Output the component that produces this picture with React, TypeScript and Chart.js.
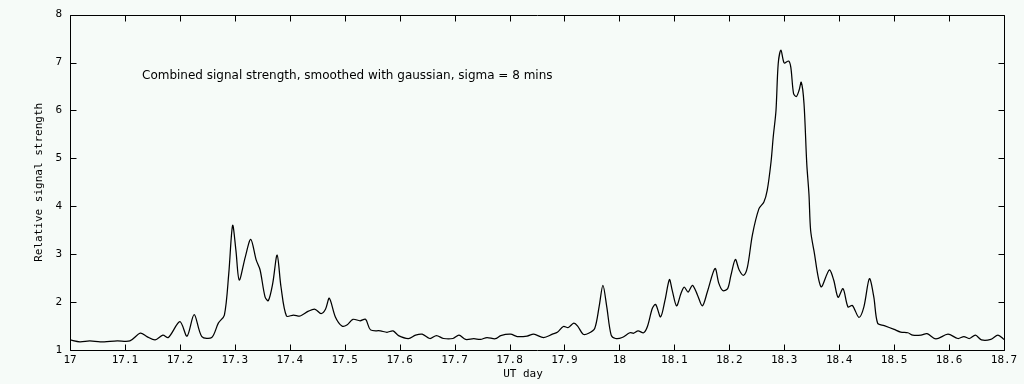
import { useEffect, useRef } from 'react';
import { Chart, registerables } from 'chart.js';

Chart.register(...registerables);

// UT day of each sample
const days: number[] = [
  17.000, 17.018, 17.036, 17.055, 17.086, 17.109, 17.128, 17.140, 17.155, 17.169,
  17.179, 17.200, 17.213, 17.226, 17.240, 17.258, 17.270, 17.281, 17.289, 17.296,
  17.302, 17.308, 17.319, 17.329, 17.339, 17.346, 17.355, 17.361, 17.369, 17.377,
  17.384, 17.394, 17.407, 17.419, 17.434, 17.446, 17.457, 17.465, 17.472, 17.483,
  17.495, 17.504, 17.515, 17.528, 17.538, 17.547, 17.565, 17.577, 17.588, 17.598,
  17.616, 17.629, 17.641, 17.655, 17.667, 17.680, 17.697, 17.708, 17.720, 17.735,
  17.747, 17.759, 17.774, 17.784, 17.802, 17.814, 17.832, 17.844, 17.862, 17.878,
  17.887, 17.898, 17.907, 17.917, 17.924, 17.934, 17.944, 17.955, 17.963, 17.970,
  17.977, 17.985, 17.993, 18.005, 18.019, 18.026, 18.034, 18.044, 18.051, 18.060,
  18.066, 18.075, 18.083, 18.091, 18.096, 18.104, 18.112, 18.118, 18.125, 18.133,
  18.142, 18.151, 18.160, 18.174, 18.181, 18.188, 18.197, 18.203, 18.211, 18.218,
  18.226, 18.233, 18.242, 18.254, 18.263, 18.269, 18.276, 18.280, 18.285, 18.289,
  18.294, 18.300, 18.308, 18.312, 18.317, 18.322, 18.327, 18.331, 18.336, 18.341,
  18.345, 18.348, 18.354, 18.367, 18.382, 18.390, 18.398, 18.407, 18.416, 18.424,
  18.436, 18.445, 18.455, 18.463, 18.470, 18.482, 18.500, 18.512, 18.525, 18.534,
  18.549, 18.560, 18.576, 18.598, 18.616, 18.627, 18.637, 18.648, 18.659, 18.676,
  18.689, 18.700,
];

// Relative signal strength at each sample
const strength: number[] = [
  1.21, 1.17, 1.19, 1.17, 1.19, 1.19, 1.35, 1.28, 1.21, 1.31,
  1.26, 1.59, 1.29, 1.74, 1.28, 1.26, 1.56, 1.73, 2.6, 3.60,
  3.08, 2.46, 2.94, 3.31, 2.875, 2.67, 2.11, 2.03, 2.39, 2.98,
  2.32, 1.71, 1.73, 1.71, 1.81, 1.85, 1.76, 1.85, 2.08, 1.69,
  1.50, 1.52, 1.64, 1.61, 1.64, 1.42, 1.40, 1.37, 1.40, 1.30,
  1.24, 1.31, 1.33, 1.24, 1.30, 1.24, 1.24, 1.31, 1.22, 1.235,
  1.22, 1.26, 1.235, 1.30, 1.33, 1.28, 1.29, 1.33, 1.26, 1.33,
  1.37, 1.49, 1.47, 1.56, 1.50, 1.33, 1.35, 1.45, 1.90, 2.35,
  1.90, 1.31, 1.24, 1.26, 1.36, 1.35, 1.40, 1.36, 1.49, 1.87,
  1.95, 1.69, 2.04, 2.47, 2.25, 1.92, 2.18, 2.31, 2.21, 2.35,
  2.15, 1.92, 2.21, 2.70, 2.39, 2.24, 2.28, 2.56, 2.89, 2.67,
  2.56, 2.73, 3.40, 3.95, 4.09, 4.33, 4.93, 5.45, 6.0, 6.97,
  7.26, 6.99, 7.03, 6.90, 6.35, 6.29, 6.42, 6.59, 6.14, 4.89,
  4.25, 3.5, 3.08, 2.32, 2.67, 2.46, 2.10, 2.28, 1.90, 1.93,
  1.68, 1.90, 2.49, 2.11, 1.56, 1.51, 1.43, 1.375, 1.36, 1.31,
  1.31, 1.34, 1.23, 1.33, 1.24, 1.28, 1.24, 1.31, 1.21, 1.22,
  1.31, 1.22,
];

const xMin = 17;
const xMax = 18.7;
const xStep = 0.1;
const yMin = 1;
const yMax = 8;
const yStep = 1;

const xTitle = 'UT day';
const yTitle = 'Relative signal strength';
const note = 'Combined signal strength, smoothed with gaussian, sigma = 8 mins';

const BG = '#f6fbf8';
const MONO = '"DejaVu Sans Mono", monospace';

const framePlugin = {
  id: 'frame',
  beforeDraw(chart: any) {
    const { ctx, width, height } = chart;
    ctx.save();
    ctx.fillStyle = BG;
    ctx.fillRect(0, 0, width, height);
    ctx.restore();
  },
  afterDraw(chart: any) {
    const { ctx, chartArea: a, scales } = chart;
    const L = Math.round(a.left) + 0.5;
    const R = Math.round(a.right) + 0.5;
    const T = Math.round(a.top) + 0.5;
    const B = Math.round(a.bottom) + 0.5;
    ctx.save();
    ctx.strokeStyle = '#000';
    ctx.lineWidth = 1;
    ctx.beginPath();
    ctx.rect(L, T, R - L, B - T);
    const tl = 6;
    for (const t of scales.x.ticks) {
      const px = Math.round(scales.x.getPixelForValue(t.value)) + 0.5;
      ctx.moveTo(px, B);
      ctx.lineTo(px, B - tl);
      ctx.moveTo(px, T);
      ctx.lineTo(px, T + tl);
    }
    for (const t of scales.y.ticks) {
      const py = Math.round(scales.y.getPixelForValue(t.value)) + 0.5;
      ctx.moveTo(L, py);
      ctx.lineTo(L + tl, py);
      ctx.moveTo(R, py);
      ctx.lineTo(R - tl, py);
    }
    ctx.stroke();

    // annotation
    ctx.fillStyle = '#000';
    ctx.font = '12px "DejaVu Sans", sans-serif';
    ctx.textAlign = 'left';
    ctx.textBaseline = 'middle';
    ctx.fillText(note, 142, 76);

    // axis titles
    ctx.font = '11px ' + MONO;
    ctx.textAlign = 'center';
    ctx.fillText(xTitle, 523, 374);
    ctx.translate(39, (a.top + a.bottom) / 2);
    ctx.rotate(-Math.PI / 2);
    ctx.fillText(yTitle, 0, 0);
    ctx.restore();
  },
};

export default function App() {
  const ref = useRef<HTMLCanvasElement | null>(null);

  useEffect(() => {
    if (!ref.current) return;
    const points = days.map((d, i) => ({ x: d, y: strength[i] }));
    const chart = new Chart(ref.current, {
      type: 'line',
      data: {
        datasets: [
          {
            data: points,
            borderColor: '#000',
            borderWidth: 1.25,
            pointRadius: 0,
            tension: 0.3,
            fill: false,
          },
        ],
      },
      options: {
        animation: false,
        responsive: false,
        layout: { padding: { top: 13, right: 20, left: 0, bottom: 0 } },
        plugins: { legend: { display: false }, tooltip: { enabled: false } },
        scales: {
          x: {
            type: 'linear',
            min: xMin,
            max: xMax,
            grid: { display: false, drawTicks: false },
            border: { display: false },
            ticks: {
              stepSize: xStep,
              padding: 4,
              color: '#000',
              font: { family: MONO, size: 11 },
              maxRotation: 0,
              autoSkip: false,
              callback: (v: any) => {
                const n = Math.round(Number(v) * 10) / 10;
                return Number.isInteger(n) ? String(n) : n.toFixed(1);
              },
            },
            afterFit: (s: any) => {
              s.height = 34;
            },
          },
          y: {
            type: 'linear',
            min: yMin,
            max: yMax,
            grid: { display: false, drawTicks: false },
            border: { display: false },
            ticks: {
              stepSize: yStep,
              padding: 8,
              color: '#000',
              font: { family: MONO, size: 11 },
            },
            afterFit: (s: any) => {
              s.width = 70;
            },
          },
        },
      },
      plugins: [framePlugin],
    });
    return () => chart.destroy();
  }, []);

  return (
    <div style={{ position: 'fixed', left: 0, top: 0, width: 1024, height: 384, background: BG }}>
      <canvas ref={ref} width={1024} height={384} />
    </div>
  );
}
